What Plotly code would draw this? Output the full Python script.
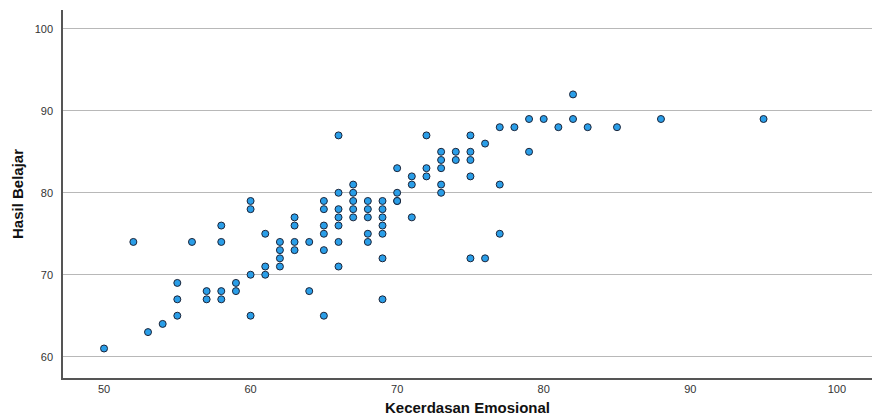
import plotly.graph_objects as go

# Kecerdasan Emosional (x) and Hasil Belajar (y)
x_vals = [50, 52, 53, 54, 55, 55, 55, 56, 57, 57,
          58, 58, 58, 58, 59, 59, 60, 60, 60, 60,
          61, 61, 61, 62, 62, 62, 62, 63, 63, 63, 63,
          64, 64, 65, 65, 65, 65, 65, 65,
          66, 66, 66, 66, 66, 66, 66,
          67, 67, 67, 67, 67,
          68, 68, 68, 68, 68,
          69, 69, 69, 69, 69, 69, 69,
          70, 70, 70, 70, 71, 71, 71, 72, 72, 72,
          73, 73, 73, 73, 73, 74, 74,
          75, 75, 75, 75, 75, 76, 76, 77, 77, 77,
          78, 79, 79, 80, 81, 82, 82, 83, 85, 88, 95]
y_vals = [61, 74, 63, 64, 69, 67, 65, 74, 68, 67,
          76, 74, 68, 67, 69, 68, 79, 78, 70, 65,
          75, 71, 70, 74, 73, 72, 71, 77, 76, 74, 73,
          74, 68, 79, 78, 76, 75, 73, 65,
          87, 80, 78, 77, 76, 74, 71,
          81, 80, 79, 78, 77,
          79, 78, 77, 75, 74,
          79, 78, 77, 76, 75, 72, 67,
          83, 80, 79, 79, 82, 81, 77, 87, 83, 82,
          85, 84, 83, 81, 80, 85, 84,
          87, 85, 84, 82, 72, 86, 72, 88, 81, 75,
          88, 89, 85, 89, 88, 92, 89, 88, 88, 89, 89]

x_ticks = [50, 60, 70, 80, 90, 100]
y_ticks = [60, 70, 80, 90, 100]

fig = go.Figure(go.Scatter(
    x=x_vals, y=y_vals, mode="markers",
    marker=dict(symbol="circle", size=7, color="#2a9ee8",
                line=dict(color="#1c2438", width=1)),
    showlegend=False,
))

font = "Liberation Sans, Arial, sans-serif"
fig.update_layout(
    width=872, height=416,
    margin=dict(l=63, r=0, t=10, b=38),
    paper_bgcolor="white", plot_bgcolor="white",
    font=dict(family=font, size=11, color="#333333"),
)
fig.update_xaxes(
    range=[47.2, 102.4], tickvals=x_ticks, showgrid=False, zeroline=False,
    showline=True, linecolor="#555555", linewidth=1.5, ticks="",
    tickfont=dict(size=11, color="#333333"),
    title=dict(text="Kecerdasan Emosional", standoff=12,
               font=dict(size=15, color="#111111", family=font, weight="bold")),
    automargin=False,
)
fig.update_yaxes(
    range=[57.4, 102.3], tickvals=y_ticks, showgrid=True, gridcolor="#b8b8b8",
    gridwidth=1, zeroline=False,
    showline=True, linecolor="#555555", linewidth=1.5, ticks="",
    tickfont=dict(size=11, color="#333333"), ticklabelstandoff=6,
    title=dict(text="Hasil Belajar", standoff=7,
               font=dict(size=15, color="#111111", family=font, weight="bold")),
    automargin=False,
)

fig.write_html("out.html", config={"displayModeBar": False},
               post_script="document.body.style.margin='0';document.body.style.overflow='hidden';")
